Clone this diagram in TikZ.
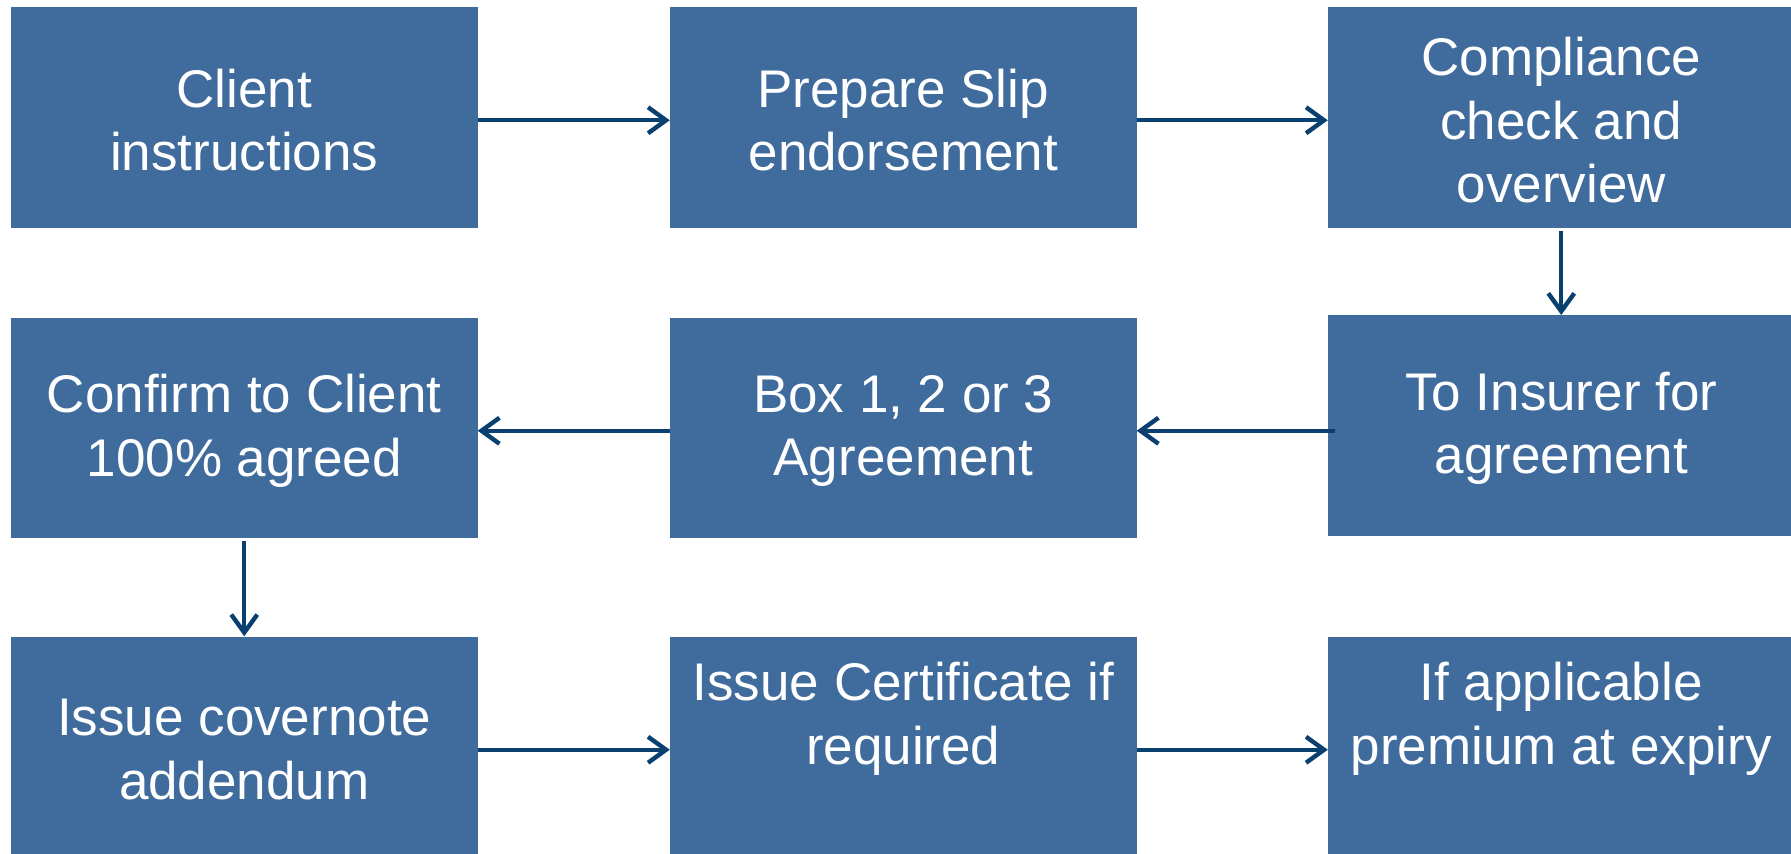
\documentclass[tikz,border=0pt]{standalone}
\usepackage{fontspec}
\setmainfont{Liberation Sans}
\usetikzlibrary{arrows.meta}
\definecolor{boxblue}{RGB}{63,107,157}
\definecolor{linknavy}{RGB}{10,64,112}
\tikzset{
  stepbox/.style={fill=boxblue, draw=none, inner sep=0pt,
    minimum width=466.5pt, minimum height=220.5pt},
  boxtext/.style={text=white, align=center, inner sep=0pt, yshift=-3pt,
    font=\fontsize{53pt}{63.5pt}\selectfont},
  link/.style={draw=linknavy, line width=4.4pt,
    -{Straight Barb[length=18pt, width=26pt, line width=4.4pt]}},
}
\begin{document}
\begin{tikzpicture}[x=1pt, y=-1pt]
\useasboundingbox (0,0) rectangle (1791,854);
\clip (0,0) rectangle (1791,854);

% row 1
\node[stepbox] (a1) at (244.25,117.25) {};
\node[stepbox] (a2) at (903.25,117.25) {};
\node[stepbox] (a3) at (1561.25,117.25) {};
% row 2
\node[stepbox] (b1) at (244.25,427.75) {};
\node[stepbox] (b2) at (903.25,427.75) {};
\node[stepbox] (b3) at (1561.25,425.5) {};
% row 3
\node[stepbox] (c1) at (244.25,746.75) {};
\node[stepbox] (c2) at (903.25,746.75) {};
\node[stepbox] (c3) at (1561.25,746.75) {};

% labels
\node[boxtext] at (a1.center) {Client\\instructions};
\node[boxtext] at (a2.center) {Prepare Slip\\endorsement};
\node[boxtext] at (a3.center) {Compliance\\check and\\overview};
\node[boxtext] at (b1.center) {Confirm to Client\\100\% agreed};
\node[boxtext] at (b2.center) {Box 1, 2 or 3\\Agreement};
\node[boxtext] at (b3.center) {To Insurer for\\agreement};
\node[boxtext] at (c1.center) {Issue covernote\\addendum};
\node[boxtext] at ([yshift=31pt]c2.center) {Issue Certificate if\\required};
\node[boxtext] at ([yshift=31pt]c3.center) {If applicable\\premium at expiry};

% connectors
\coordinate (mid2) at ([yshift=-3pt]b2.east);
\draw[link] ([yshift=-3pt]a1.east) -- ([yshift=-3pt]a2.west);
\draw[link] ([yshift=-3pt]a2.east) -- ([yshift=-3pt]a3.west);
\draw[link, shorten <=3pt] (a3.south) -- (b3.north);
\draw[link, shorten <=-7pt] (b3.west |- mid2) -- (mid2);
\draw[link] ([yshift=-3pt]b2.west) -- ([yshift=-3pt]b1.east);
\draw[link, shorten <=3pt] (b1.south) -- (c1.north);
\draw[link] ([yshift=-3pt]c1.east) -- ([yshift=-3pt]c2.west);
\draw[link] ([yshift=-3pt]c2.east) -- ([yshift=-3pt]c3.west);
\end{tikzpicture}
\end{document}
